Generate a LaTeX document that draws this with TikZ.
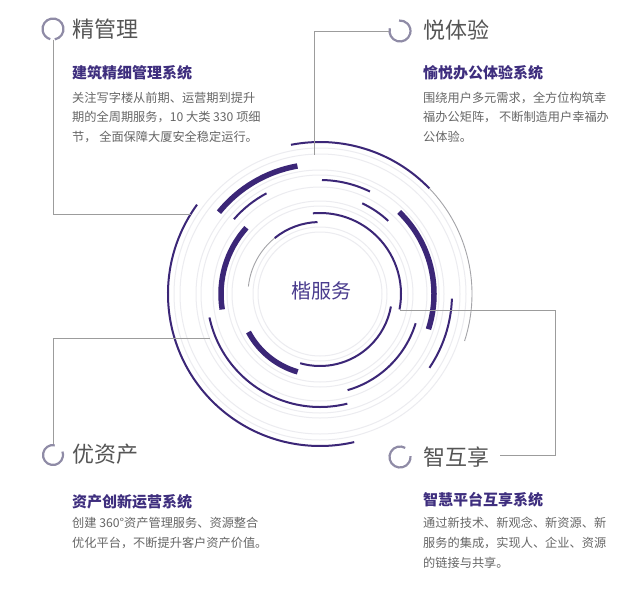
\documentclass[tikz,border=0pt]{standalone}
\usepackage{fontspec}
\newfontfamily\cjk{Noto Sans CJK SC}
\definecolor{ringdark}{HTML}{3B2677}
\definecolor{ringgray}{HTML}{A4A4A8}
\definecolor{faint}{HTML}{ECECF0}
\definecolor{linegray}{HTML}{9C9C9C}
\definecolor{icongray}{HTML}{8F8BA6}
\definecolor{titlegray}{HTML}{555555}
\definecolor{bodygray}{HTML}{666666}
\definecolor{subpurple}{HTML}{3E2E7E}
\definecolor{centerpurple}{HTML}{4A3C8E}
\begin{document}
\begin{tikzpicture}[x=1pt,y=-1pt,
  thinarc/.style={draw=ringdark, line width=2pt},
  thickarc/.style={draw=ringdark, line width=5.5pt},
  grayarc/.style={draw=ringgray, line width=0.9pt},
  faintring/.style={draw=faint, line width=1pt},
  connector/.style={draw=linegray, line width=0.8pt},
  iconring/.style={draw=icongray, line width=2.2pt},
  anchorbox/.style={circle, minimum size=21pt, inner sep=0pt},
  title/.style={font=\cjk\fontsize{22}{26}\selectfont, text=titlegray, anchor=west, inner sep=0pt},
  subtitle/.style={font=\cjk\bfseries\fontsize{15}{18}\selectfont, text=subpurple, anchor=west, inner sep=0pt},
  body/.style={font=\cjk\fontsize{12.2}{14}\selectfont, text=bodygray, anchor=west, inner sep=0pt},
]
\path[use as bounding box, fill=white] (0,0) rectangle (640,608);

% rings
\begin{scope}[shift={(320,294)}, yscale=-1]
  \foreach \r in {62,67,88,93,107,119,124,140,146}
    \draw[faintring] (0,0) circle[radius=\r];
  % outer r=152
  \draw[thinarc] (44:152) arc[start angle=44, end angle=101, radius=152];
  \draw[grayarc] (-18:152) arc[start angle=-18, end angle=44, radius=152];
  \draw[thinarc] (144:152) arc[start angle=144, end angle=283, radius=152];
  % r=131
  \draw[thickarc] (100:130) arc[start angle=100, end angle=141, radius=130];
  \draw[thinarc] (-34:132) arc[start angle=-34, end angle=-2, radius=132];
  % r=114
  \draw[thinarc] (64:114) arc[start angle=64, end angle=89, radius=114];
  \draw[thinarc] (118:114) arc[start angle=118, end angle=139, radius=114];
  \draw[thickarc] (-18:114) arc[start angle=-18, end angle=46, radius=114];
  \draw[thinarc] (192:113) arc[start angle=192, end angle=284, radius=113];
  % r=100
  \draw[thinarc] (47:100) arc[start angle=47, end angle=65, radius=100];
  \draw[thickarc] (138:99) arc[start angle=138, end angle=189, radius=99];
  \draw[thinarc] (-74:100) arc[start angle=-74, end angle=-17, radius=100];
  % r=81
  \draw[thickarc] (208:81) arc[start angle=208, end angle=254, radius=81];
  \draw[thinarc] (-11:81) arc[start angle=-11, end angle=95, radius=81];
  % r=72
  \draw[thinarc] (92:72) arc[start angle=92, end angle=129, radius=72];
  \draw[grayarc] (129:72) arc[start angle=129, end angle=174, radius=72];
  \draw[thinarc] (254:72) arc[start angle=254, end angle=350, radius=72];
\end{scope}

\node[font=\cjk\fontsize{20}{24}\selectfont, text=centerpurple] (center) at (321,291) {楷服务};

% icons
\node[anchorbox] (iconTL) at (53,29) {};
\node[anchorbox] (iconTR) at (400,31) {};
\node[anchorbox] (iconBL) at (53,455) {};
\node[anchorbox] (iconBR) at (400,457) {};
\begin{scope}[shift={(53,29)}, yscale=-1]
  \draw[iconring] (-80:10.5) arc[start angle=-80, end angle=255, radius=10.5];
\end{scope}
\begin{scope}[shift={(400,31)}, yscale=-1]
  \draw[iconring] (165:10.5) arc[start angle=165, end angle=455, radius=10.5];
\end{scope}
\begin{scope}[shift={(53,455)}, yscale=-1]
  \draw[iconring] (80:10) arc[start angle=80, end angle=380, radius=10];
\end{scope}
\begin{scope}[shift={(400,457)}, yscale=-1]
  \draw[iconring] (60:10.5) arc[start angle=60, end angle=365, radius=10.5];
\end{scope}

% connector ends
\coordinate (tlEnd) at (190.8,214);
\coordinate (trEnd) at (314,155);
\coordinate (blEnd) at (210,338);
\coordinate (brStart) at (400,310);
\coordinate (brCorner) at (555,455);
\coordinate (brEnd) at (500,455);

\draw[connector] (iconTL.south) |- (tlEnd);
\draw[connector] (iconTR.west) -| (trEnd);
\draw[connector] (iconBL.north) |- (blEnd);
\draw[connector] (brStart) -| (brCorner) -- (brEnd);

% texts top-left
\node[title] (tTL) at (72,29.5) {精管理};
\node[subtitle] (sTL) at (72,73) {建筑精细管理系统};
\node[body] (bTL1) at (72,97.5) {关注写字楼从前期、运营期到提升};
\node[body] (bTL2) at (72,117) {期的全周期服务，10 大类 330 项细};
\node[body] (bTL3) at (72,136.5) {节， 全面保障大厦安全稳定运行。};

% top-right
\node[title] (tTR) at (423,30) {悦体验};
\node[subtitle] (sTR) at (423,73) {愉悦办公体验系统};
\node[body] (bTR1) at (423,97.5) {围绕用户多元需求，全方位构筑幸};
\node[body] (bTR2) at (423,117) {福办公矩阵， 不断制造用户幸福办};
\node[body] (bTR3) at (423,136.5) {公体验。};

% bottom-left
\node[title] (tBL) at (72,454) {优资产};
\node[subtitle] (sBL) at (72,502) {资产创新运营系统};
\node[body] (bBL1) at (72,523) {创建 360°资产管理服务、资源整合};
\node[body] (bBL2) at (72,543) {优化平台，不断提升客户资产价值。};

% bottom-right
\node[title] (tBR) at (423,457) {智互享};
\node[subtitle] (sBR) at (423,500) {智慧平台互享系统};
\node[body] (bBR1) at (423,523) {通过新技术、新观念、新资源、新};
\node[body] (bBR2) at (423,543) {服务的集成，实现人、企业、资源};
\node[body] (bBR3) at (423,563) {的链接与共享。};
\end{tikzpicture}
\end{document}
